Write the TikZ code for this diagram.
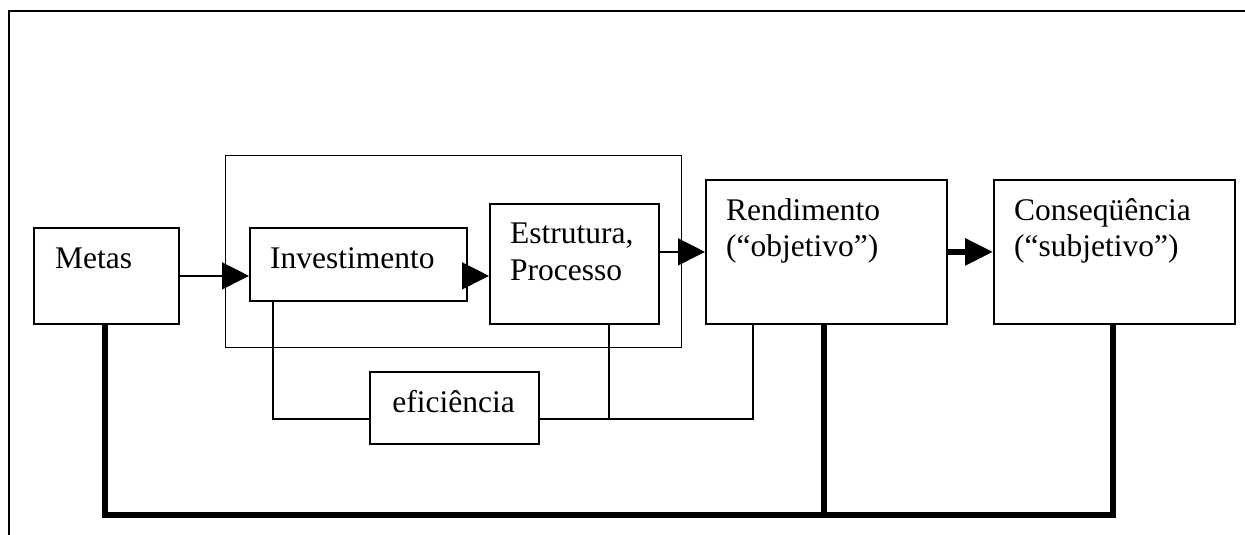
\documentclass[tikz,border=0pt]{standalone}
\usepackage{fontspec}
\setmainfont{Liberation Serif}
\usetikzlibrary{arrows.meta}
\begin{document}
\begin{tikzpicture}[x=1pt,y=-1pt,
  box/.style={draw,line width=1.8pt,inner sep=0pt,anchor=north west},
  grp/.style={draw,line width=1.3pt,inner sep=0pt,anchor=north west},
  txt/.style={anchor=base west,inner sep=0pt,font=\fontsize{31.5}{36}\selectfont},
  ctxt/.style={anchor=base,inner sep=0pt,font=\fontsize{31.5}{36}\selectfont},
  thinline/.style={line width=1.3pt},
  thickline/.style={line width=6pt,line join=miter},
  arr/.style={-{Triangle[length=27pt,width=27pt]}},
  bigarr/.style={-{Triangle[length=28pt,width=26pt]}}]
\useasboundingbox (0,0) rectangle (1245,535);
% outer frame (top and left edges)
\draw[line width=2pt] (9,535) -- (9,11) -- (1250,11);
% group box
\node[grp,minimum width=456pt,minimum height=192pt] (grp) at (225,155) {};
% boxes
\node[box,minimum width=145pt,minimum height=96pt] (metas) at (33,227) {};
\node[box,minimum width=217pt,minimum height=73pt] (inv) at (249,227) {};
\node[box,minimum width=169pt,minimum height=120pt] (estr) at (489,203) {};
\node[box,minimum width=241pt,minimum height=144pt] (rend) at (705,179) {};
\node[box,minimum width=241pt,minimum height=144pt] (cons) at (993,179) {};
\node[box,minimum width=169pt,minimum height=72pt] (ef) at (369,371) {};
% texts
\node[txt] (tmetas) at (55,268) {Metas};
\node[txt] (tinv) at (270,268) {Investimento};
\node[txt] (testr1) at (510,243) {Estrutura,};
\node[txt] (testr2) at (510,280) {Processo};
\node[txt] (trend1) at (726,220) {Rendimento};
\node[txt] (trend2) at (726,256) {(“objetivo”)};
\node[txt] (tcons1) at (1014,220) {Conseqüência};
\node[txt] (tcons2) at (1014,256) {(“subjetivo”)};
\node[ctxt] (tef) at (453.5,412) {eficiência};
% coordinates for bends
\coordinate (b1) at (273,419);
\coordinate (b2) at (609,419);
\coordinate (b3) at (753,419);
\coordinate (f1) at (105,515);
\coordinate (f2) at (824,515);
\coordinate (f3) at (1113,515);
% arrows
\draw[thinline,arr] (metas.east) -- (metas.east -| inv.west);
\draw[thinline,arr] (inv.east |- metas.east) -- (estr.west |- metas.east);
\draw[thinline,arr] (estr.east |- rend.west) -- (rend.west);
\draw[thickline,bigarr] (rend.east) -- (cons.west);
% efficiency links
\draw[thinline] (inv.south -| b1) -- (b1) -- (b1 -| ef.west);
\draw[thinline] (ef.east |- b1) -- (b3) -- (rend.south -| b3);
\draw[thinline] (estr.south -| b2) -- (b2);
% feedback
\draw[thickline] (metas.south -| f1) -- (f1) -- (f3) -- (cons.south -| f3);
\draw[thickline] (rend.south -| f2) -- (f2);
\end{tikzpicture}
\end{document}
